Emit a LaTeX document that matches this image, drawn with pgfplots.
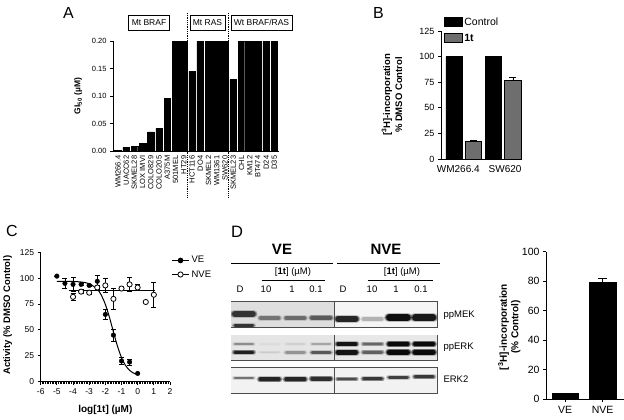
\documentclass[border=0pt]{standalone}
\usepackage{fontspec}
\setmainfont{Liberation Sans}
\usepackage{pgfplots}
\pgfplotsset{compat=1.18}
\definecolor{bargray}{RGB}{110,110,110}
\pgfplotsset{
 prism/.style={scale only axis, anchor=south west, axis lines=left,
   axis line style={-, line width=0.9pt}, tick style={line width=0.9pt, black},
   tick align=outside, major tick length=3pt, minor tick length=2pt,
   /pgf/number format/assume math mode=true, clip=false},
 blot/.style={scale only axis, anchor=south west, xmin=0, xmax=8, ymin=0, ymax=1,
   xtick=\empty, ytick=\empty, axis line style={draw=black!70, line width=0.7pt}, clip=true},
}
\newcommand{\band}[4]{%
 \addplot[line width=#4pt+2pt, color=black!#3, opacity=0.25, line cap=round, forget plot] coordinates {(#1.12,#2) (#1.88,#2)};
 \addplot[line width=#4pt+0.8pt, color=black!#3, opacity=0.45, line cap=round, forget plot] coordinates {(#1.13,#2) (#1.87,#2)};
 \addplot[line width=#4pt, color=black!#3, line cap=round, forget plot] coordinates {(#1.16,#2) (#1.84,#2)};}
\newcommand{\bg}[3]{\addplot[fill=black!#3, draw=none, forget plot] coordinates {(#1,1) (#2,1)} \closedcycle;}
\begin{document}
\begin{tikzpicture}
\useasboundingbox (0,0) rectangle (624pt,-420pt);
\fill[white] (0,0) rectangle (624pt,-420pt);
% ---------------- Panel A ----------------
\node[font=\fontsize{16}{16}\selectfont] at (68.5pt,-12.5pt) {A};
\begin{axis}[prism, at={(113pt,-151pt)}, width=165.5pt, height=110pt,
  xmin=-0.6, xmax=19.5, ymin=0, ymax=0.2,
  ytick={0,0.05,0.1,0.15,0.2},
  yticklabel style={font=\fontsize{7.5}{8}\selectfont, /pgf/number format/.cd, fixed, fixed zerofill, precision=2},
  xtick={0,...,19}, major x tick style={draw=none},
  xticklabels={WM266.4,UACC62,SKMEL28,LOX IMVI,COLO829,COLO205,A375M,501MEL,HT29,HCT116,DO4,SKMEL2,WM1361,SW620,SKMEL23,CHL,KM12,BT474,D24,D35},
  xticklabel style={rotate=90, anchor=east, font=\fontsize{7.5}{8}\selectfont, inner sep=1.5pt},
  ylabel={\textbf{GI\textsubscript{50} (µM)}},
  ylabel style={at={(axis description cs:-0.21,0.5)}, anchor=center, font=\fontsize{8.5}{9}\selectfont}]
\addplot[ybar, bar shift=0pt, bar width=0.8, fill=black, draw=black] coordinates {
 (0,0.001) (1,0.007) (2,0.009) (3,0.014) (4,0.035) (5,0.041) (6,0.096) (7,0.2) (8,0.2) (9,0.145)
 (10,0.2) (11,0.2) (12,0.2) (13,0.2) (14,0.13) (15,0.2) (16,0.2) (17,0.2) (18,0.2) (19,0.2)};
\end{axis}
\draw[densely dotted, line width=0.8pt] (187pt,-13pt) -- (187pt,-197pt);
\draw[densely dotted, line width=0.8pt] (228pt,-13pt) -- (228pt,-197pt);
\node[draw, line width=0.7pt, font=\fontsize{8.5}{9}\selectfont, minimum height=15pt, inner xsep=3pt] at (149pt,-22.5pt) {Mt BRAF};
\node[draw, line width=0.7pt, font=\fontsize{8.5}{9}\selectfont, minimum height=15pt, inner xsep=3pt] at (207.5pt,-22.5pt) {Mt RAS};
\node[draw, line width=0.7pt, font=\fontsize{8.5}{9}\selectfont, minimum height=15pt, inner xsep=3pt] at (261.5pt,-22.5pt) {Wt BRAF/RAS};
% ---------------- Panel B ----------------
\node[font=\fontsize{16}{16}\selectfont] at (378.5pt,-12.5pt) {B};
\begin{axis}[prism, at={(441pt,-159pt)}, width=79pt, height=128pt,
  xmin=-0.16, xmax=3.86, ymin=0, ymax=125, ytick={0,25,...,125},
  yticklabel style={font=\fontsize{9}{9}\selectfont},
  xtick={0.72,3.1}, xticklabels={WM266.4,SW620}, major x tick style={draw=none},
  xticklabel style={font=\fontsize{10}{10}\selectfont},
  ylabel={\textbf{[\textsuperscript{3}H]-incorporation}\\\textbf{\% DMSO Control}},
  ylabel style={at={(axis description cs:-0.62,0.5)}, anchor=center, align=center, font=\fontsize{9.5}{12}\selectfont},
  legend style={at={(axis description cs:0.03,1.12)}, anchor=north west, draw=none, fill=none,
    font=\fontsize{10.5}{11}\selectfont, row sep=3pt, inner sep=0pt,
    /tikz/every even column/.append style={column sep=4pt}},
  legend cell align=left,
  legend image code/.code={\draw[#1, line width=0.8pt] (0pt,-4.5pt) rectangle (18pt,4.5pt);}]
\addplot[ybar, bar shift=0pt, bar width=0.82, fill=black, draw=black] coordinates {(0.5,100) (2.5,100)};
\addlegendentry{Control}
\addplot[ybar, bar shift=0pt, bar width=0.82, fill=bargray, draw=black, line width=0.8pt,
  error bars/.cd, y dir=plus, y explicit, error bar style={line width=0.8pt}, error mark options={rotate=90, mark size=3.5pt, line width=0.8pt}]
  coordinates {(1.5,17) +- (0,1) (3.5,77) +- (0,2.5)};
\addlegendentry{\textbf{1t}}
\end{axis}
% ---------------- Panel C ----------------
\node[font=\fontsize{16}{16}\selectfont] at (12pt,-231pt) {C};
\begin{axis}[prism, at={(40.7pt,-381.7pt)}, width=129.3pt, height=129.4pt,
  xmin=-6, xmax=2, ymin=0, ymax=125, xtick={-6,...,2}, ytick={0,25,...,125},
  minor x tick num=9,
  ticklabel style={font=\fontsize{8.5}{9}\selectfont},
  xlabel={\textbf{log[1t] (µM)}},
  xlabel style={at={(axis description cs:0.5,-0.22)}, anchor=center, font=\fontsize{10}{10}\selectfont},
  ylabel={\textbf{Activity (\% DMSO Control)}},
  ylabel style={at={(axis description cs:-0.255,0.515)}, anchor=center, font=\fontsize{9.5}{10}\selectfont},
  legend style={at={(axis description cs:1.01,0.985)}, anchor=north west, draw=none, fill=none,
    font=\fontsize{9.5}{10}\selectfont, row sep=2pt, inner sep=0pt},
  legend cell align=left]
% fitted curves
\addplot[black, line width=1pt, smooth, forget plot] coordinates {
 (-5,97.0) (-4,96.8) (-3.5,96.3) (-3,94.7) (-2.5,89.4) (-2.25,83.6) (-2,74.7) (-1.75,62.4)
 (-1.5,48.1) (-1.25,34.3) (-1,23.3) (-0.75,15.7) (-0.5,11.0) (-0.25,8.3) (0,6.8)};
\addplot[black, line width=1pt, forget plot] coordinates {(-4.25,88) (1.05,88)};
% VE data
\addplot[only marks, mark=*, mark size=2.3pt, black, forget plot,
  error bars/.cd, y dir=both, y explicit, error bar style={line width=0.8pt}, error mark options={rotate=90, mark size=2.5pt, line width=0.8pt}]
  coordinates {(-5,102) +- (0,0) (-4.5,95) +- (0,5) (-4,94) +- (0,7) (-3.5,94) +- (0,1) (-3,93) +- (0,1)
   (-2.5,97) +- (0,6) (-2,65) +- (0,5) (-1.5,45) +- (0,6) (-1,20) +- (0,3) (-0.5,19) +- (0,3) (0,8) +- (0,0)};
% NVE data
\addplot[only marks, mark=*, mark size=2.6pt, black, mark options={fill=white, line width=0.8pt}, forget plot,
  error bars/.cd, y dir=both, y explicit, error bar style={line width=0.8pt}, error mark options={rotate=90, mark size=2.5pt, line width=0.8pt}]
  coordinates {(-4,82) +- (0,3) (-3.5,87) +- (0,2) (-3,86) +- (0,2) (-2.5,91) +- (0,2) (-2,93) +- (0,7)
   (-1.5,80) +- (0,10) (-1,90) +- (0,1) (-0.5,94) +- (0,7) (0,91) +- (0,3) (0.5,77) +- (0,0) (1,84) +- (0,12)};
\addlegendimage{black, line width=1pt, mark=*, mark size=2.3pt}
\addlegendentry{VE}
\addlegendimage{black, line width=1pt, mark=*, mark size=2.6pt, mark options={fill=white, line width=0.8pt}}
\addlegendentry{NVE}
\end{axis}
% ---------------- Panel D ----------------
\node[font=\fontsize{16.5}{17}\selectfont] at (237pt,-232pt) {D};
\node[font=\fontsize{15}{15}\selectfont\bfseries] at (282pt,-249pt) {VE};
\node[font=\fontsize{15}{15}\selectfont\bfseries] at (386pt,-249pt) {NVE};
\draw[line width=0.9pt] (231pt,-263pt) -- (333pt,-263pt);
\draw[line width=0.9pt] (337pt,-263pt) -- (440pt,-263pt);
\node[font=\fontsize{9.5}{10}\selectfont] at (293pt,-272pt) {[\textbf{1t}] (µM)};
\node[font=\fontsize{9.5}{10}\selectfont] at (402pt,-272pt) {[\textbf{1t}] (µM)};
\draw[line width=0.9pt] (262pt,-280pt) -- (325pt,-280pt);
\draw[line width=0.9pt] (368pt,-280pt) -- (433pt,-280pt);
\foreach \x/\t in {240/D,266/10,292/1,316/0.1,343/D,372/10,396/1,421/0.1}
  \node[font=\fontsize{9.5}{10}\selectfont] at (\x pt,-289pt) {\t};
\node[font=\fontsize{9.5}{10}\selectfont, anchor=west] at (440pt,-315pt) {ppMEK};
\node[font=\fontsize{9.5}{10}\selectfont, anchor=west] at (440pt,-347pt) {ppERK};
\node[font=\fontsize{9.5}{10}\selectfont, anchor=west] at (440pt,-379pt) {ERK2};
% ppMEK blot
\begin{axis}[blot, at={(231pt,-327.3pt)}, width=206pt, height=25.6pt]
\bg{0}{4}{13}\bg{4}{8}{4}
\band{0}{0.52}{80}{6}\band{0}{0.07}{80}{2.5}
\band{1}{0.36}{55}{3.5}\band{2}{0.36}{58}{4}\band{3}{0.37}{65}{4.5}
\band{4}{0.33}{85}{5.5}\band{5}{0.33}{30}{3.5}\band{6}{0.38}{95}{7}\band{7}{0.38}{90}{6.5}
\addplot[draw=black!70, line width=0.8pt, forget plot] coordinates {(4,0) (4,1)};
\end{axis}
% ppERK blot
\begin{axis}[blot, at={(231pt,-360pt)}, width=206pt, height=25pt]
\bg{0}{4}{10}\bg{4}{8}{9}
\band{0}{0.64}{45}{1.5}\band{0}{0.31}{88}{3}
\band{1}{0.64}{14}{1.2}\band{1}{0.31}{20}{1.5}
\band{2}{0.64}{18}{1.2}\band{2}{0.31}{42}{2.5}
\band{3}{0.64}{35}{1.5}\band{3}{0.31}{65}{2.5}
\band{4}{0.64}{92}{3.5}\band{4}{0.31}{92}{4.5}
\band{5}{0.64}{60}{2.5}\band{5}{0.31}{62}{3}
\band{6}{0.64}{96}{4.5}\band{6}{0.31}{96}{5.5}
\band{7}{0.64}{96}{4.5}\band{7}{0.31}{96}{5.5}
\addplot[draw=black!70, line width=0.8pt, forget plot] coordinates {(4,0) (4,1)};
\end{axis}
% ERK2 blot
\begin{axis}[blot, at={(231pt,-393.3pt)}, width=206pt, height=25.6pt]
\bg{0}{4}{5}\bg{4}{8}{5}
\band{0}{0.60}{55}{2}\band{1}{0.55}{85}{4.5}\band{2}{0.55}{85}{4.5}\band{3}{0.57}{82}{4}
\band{4}{0.56}{70}{2.5}\band{5}{0.56}{78}{3}\band{6}{0.62}{75}{3}\band{7}{0.65}{78}{3}
\addplot[draw=black!70, line width=0.8pt, forget plot] coordinates {(4,0) (4,1)};
\end{axis}
% right bar chart
\begin{axis}[prism, at={(546pt,-399.3pt)}, width=78pt, height=147.6pt,
  xmin=0.49, xmax=2.57, ymin=0, ymax=100, ytick={0,20,...,100},
  yticklabel style={font=\fontsize{10.5}{11}\selectfont},
  xtick={1,2}, xticklabels={VE,NVE}, xticklabel style={font=\fontsize{10.5}{11}\selectfont},
  ylabel={\textbf{[\textsuperscript{3}H]-incorporation}\\\textbf{(\% Control)}},
  ylabel style={at={(axis description cs:-0.47,0.49)}, anchor=center, align=center, font=\fontsize{10}{11.5}\selectfont}]
\addplot[ybar, bar shift=0pt, bar width=0.7, fill=black, draw=black,
  error bars/.cd, y dir=plus, y explicit, error bar style={line width=0.8pt}, error mark options={rotate=90, mark size=4.5pt, line width=0.8pt}]
  coordinates {(1,4) +- (0,0.3) (2,79) +- (0,3)};
\end{axis}
\end{tikzpicture}
\end{document}
